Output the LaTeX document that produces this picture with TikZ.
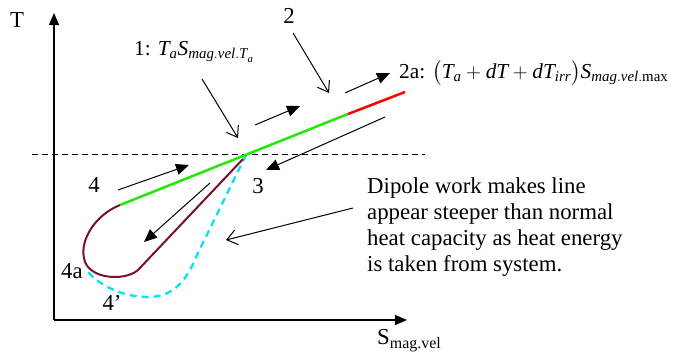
\documentclass[tikz,border=0pt]{standalone}
\usepackage{amsmath}
\usepackage{fontspec}
\setmainfont{Liberation Serif}
\usetikzlibrary{arrows.meta,positioning}

\newcommand{\itl}[1]{\mathit{#1}}

\definecolor{loopred}{RGB}{120,16,48}
\definecolor{brightgreen}{RGB}{30,235,0}
\definecolor{dashcyan}{RGB}{0,230,240}

\begin{document}
\begin{tikzpicture}[x=1pt, y=-1pt,
      every node/.style={font=\fontsize{22.8pt}{26pt}\selectfont, inner sep=0pt},
      formula/.style={font=\fontsize{21.3pt}{26pt}\selectfont, anchor=west},
      axis/.style={line width=1.3pt, -{Triangle[length=12pt,width=10pt]}},
      arr/.style={line width=1pt, -{Triangle[length=13pt,width=11pt]}},
      openarr/.style={line width=1pt, -{Straight Barb[length=10pt,width=14pt]}},
      guide/.style={line width=1pt, dashed, dash pattern=on 6pt off 4pt}
  ]
      \useasboundingbox (0,0) rectangle (688,360);

      % AXES
      \coordinate (origin) at (54,320);
      \coordinate (ytop) at (54,13);
      \coordinate (xend) at (407,320);
      \draw[axis] (origin) -- (ytop);
      \draw[axis] (origin) -- (xend);
      \node (tlbl) at (17,20) {T};
      \node[anchor=west] (slbl) at (377,341) {S\textsubscript{mag.vel}};

      % REFERENCE TEMPERATURE
      \coordinate (dl) at (32,154);
      \coordinate (dr) at (425,154);
      \draw[guide] (dl) -- (dr);

      % CYCLE
      \coordinate (p4) at (120,205);
      \coordinate (p3) at (246,155);
      \coordinate (p2) at (348,114);
      \coordinate (p2a) at (405,92);
      \coordinate (p4a) at (88,272);
      \draw[dashcyan, line width=2.3pt, dash pattern=on 7pt off 5pt]
        (p3) -- (197,255) .. controls (185,285) and (170,298) .. (145,297)
        .. controls (120,296) and (100,285) .. (p4a);
      \draw[loopred, line width=2pt]
        (p4) .. controls (95,215) and (80,240) .. (84,258)
        .. controls (87,279) and (124,282) .. (138,270) -- (243,159);
      \draw[brightgreen, line width=2.5pt] (p4) -- (p2);
      \draw[red, line width=2.5pt] (p2) -- (p2a);

      % POINT LABELS
      \node (n2) at (289,16) {2};
      \node[formula] (n1) at (134,52)
        {1: $\itl{T}_{\itl{a}}\itl{S}_{\itl{mag.vel.T}_{\itl{a}}}$};
      \node[formula] (n2a) at (399,73)
        {2a: $\bigl(\itl{T}_{\itl{a}}+\itl{dT}+\itl{dT}_{\itl{irr}}\bigr)\itl{S}_{\itl{mag.vel}.\mathrm{max}}$};
      \node (n4) at (94,185) {4};
      \node (n3) at (258,186) {3};
      \node (n4a) at (72,271) {4a};
      \node (n4p) at (112,303) {4’};
      \node[anchor=north west, align=left] (note) at (367,177)
        {Dipole work makes line\\appear steeper than normal\\heat capacity as heat energy\\is taken from system.};

      % DIRECTION ARROWS
      \coordinate (a1s) at (202,79);  \coordinate (a1e) at (238,138);
      \coordinate (a2s) at (293,33);  \coordinate (a2e) at (329,93);
      \coordinate (a3s) at (255,125); \coordinate (a3e) at (300,106);
      \coordinate (a4s) at (345,93);  \coordinate (a4e) at (390,73);
      \coordinate (a5s) at (385,117); \coordinate (a5e) at (266,170);
      \coordinate (a6s) at (118,190); \coordinate (a6e) at (189,165);
      \coordinate (a7s) at (210,183); \coordinate (a7e) at (144,242);
      \coordinate (a8s) at (353,208); \coordinate (a8e) at (226,240);
      \draw[openarr] (a1s) -- (a1e);
      \draw[openarr] (a2s) -- (a2e);
      \draw[arr] (a3s) -- (a3e);
      \draw[arr] (a4s) -- (a4e);
      \draw[arr] (a5s) -- (a5e);
      \draw[arr] (a6s) -- (a6e);
      \draw[arr] (a7s) -- (a7e);
      \draw[line width=1pt, -{Straight Barb[length=10pt,width=15pt]}] (a8s) -- (a8e);
  \end{tikzpicture}
\end{document}
